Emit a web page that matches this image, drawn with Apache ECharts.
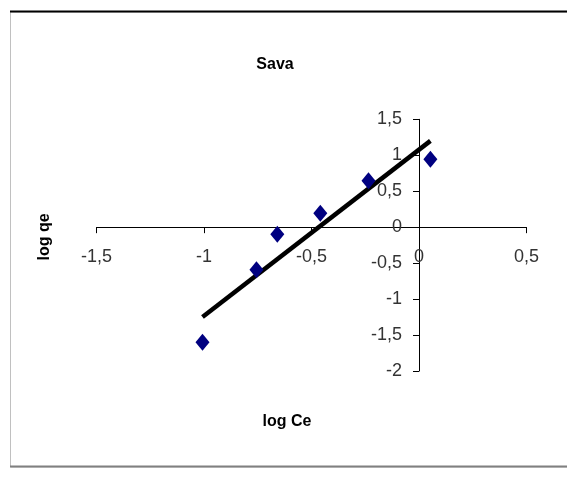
<!DOCTYPE html>
<html>
<head>
	<meta charset="UTF-8">
	<title>Sava</title>
	<style type="text/css">
		html, body {
			margin: 0;
			padding: 0;
			background: #fff;
		}
		#chart {
			width: 567px;
			height: 494px;
		}
	</style>
</head>
<body>
	<div id="chart"></div>

	<script type="text/javascript" src="https://cdn.jsdelivr.net/npm/echarts@6/dist/echarts.min.js"></script>
	<script type="text/javascript">
		// measured points (log Ce, log qe)
		var logCe = [-1.007, -0.756, -0.659, -0.459, -0.235, 0.053];
		var logQe = [-1.60, -0.593, -0.097, 0.194, 0.647, 0.944];
		// trend line ends
		var trendX = [-1.007, 0.053];
		var trendY = [-1.25, 1.20];

		var xTicks = { min: -1.5, max: 0.5, step: 0.5 };
		var yTicks = { min: -2, max: 1.5, step: 0.5 };

		function pairs (xs, ys) {
			var out = [];
			for (var i = 0; i < xs.length; i++) out.push([xs[i], ys[i]]);
			return out;
		}

		function comma (v) {
			return String(v).replace('.', ',');
		}

		var chart = echarts.init(document.getElementById('chart'));

		var labelFont = 'Liberation Sans, Arial, sans-serif';

		// plot box in pixels
		var gridLeft = 96.5, gridRight = 40.5, gridTop = 119.3, gridBottom = 123;
		var plotW = 567 - gridLeft - gridRight;
		var plotH = 494 - gridTop - gridBottom;
		// axes cross at zero, so pull them in from the grid edges
		var xAxisShift = plotH * (0 - yTicks.min) / (yTicks.max - yTicks.min);
		var yAxisShift = plotW * (0 - xTicks.min) / (xTicks.max - xTicks.min);

		var option = {
			animation: false,
			title: [
				{
					text: 'Sava',
					left: 270, top: 52,
					textAlign: 'center',
					textStyle: { fontFamily: labelFont, fontSize: 16, fontWeight: 'bold', color: '#000' }
				},
				{
					text: 'log Ce',
					left: 282, top: 409,
					textAlign: 'center',
					textStyle: { fontFamily: labelFont, fontSize: 16, fontWeight: 'bold', color: '#000' }
				}
			],
			graphic: [
				{
					type: 'rect',
					shape: { x: 10.5, y: 12, width: 600, height: 455 },
					style: { fill: 'none', stroke: '#c0c0c0', lineWidth: 1 },
					silent: true
				},
				{
					type: 'line',
					shape: { x1: 10, y1: 11.5, x2: 567, y2: 11.5 },
					style: { stroke: '#000', lineWidth: 2 }
				},
				{
					type: 'line',
					shape: { x1: 10, y1: 466.5, x2: 567, y2: 466.5 },
					style: { stroke: '#808080', lineWidth: 2 }
				},
				{
					type: 'text',
					x: 45, y: 237,
					rotation: Math.PI / 2,
					style: {
						text: 'log qe',
						font: 'bold 16px ' + labelFont,
						fill: '#000',
						align: 'center',
						verticalAlign: 'middle'
					}
				}
			],
			grid: {
				left: gridLeft,
				right: gridRight,
				top: gridTop,
				bottom: gridBottom
			},
			xAxis: {
				type: 'value',
				position: 'bottom',
				offset: -xAxisShift,
				min: xTicks.min, max: xTicks.max, interval: xTicks.step,
				axisLine: { onZero: false, lineStyle: { color: '#000', width: 1 } },
				axisTick: { inside: false, length: 6, lineStyle: { color: '#000' } },
				axisLabel: {
					margin: 21,
					fontFamily: labelFont, fontSize: 18, color: '#333',
					formatter: comma
				},
				splitLine: { show: false }
			},
			yAxis: {
				type: 'value',
				position: 'left',
				offset: -yAxisShift,
				min: yTicks.min, max: yTicks.max, interval: yTicks.step,
				axisLine: { onZero: false, lineStyle: { color: '#000', width: 1 } },
				axisTick: { inside: false, length: 6, lineStyle: { color: '#000' } },
				axisLabel: {
					margin: 17,
					fontFamily: labelFont, fontSize: 18, color: '#333',
					formatter: comma
				},
				splitLine: { show: false }
			},
			series: [
				{
					name: 'trend',
					type: 'line',
					data: pairs(trendX, trendY),
					symbol: 'none',
					lineStyle: { color: '#000', width: 4.5 },
					z: 2
				},
				{
					name: 'Sava',
					type: 'scatter',
					data: pairs(logCe, logQe),
					symbol: 'diamond',
					symbolSize: [14, 17],
					itemStyle: { color: '#000080', opacity: 1 },
					z: 3
				}
			]
		};

		chart.setOption(option);
	</script>
</body>
</html>
